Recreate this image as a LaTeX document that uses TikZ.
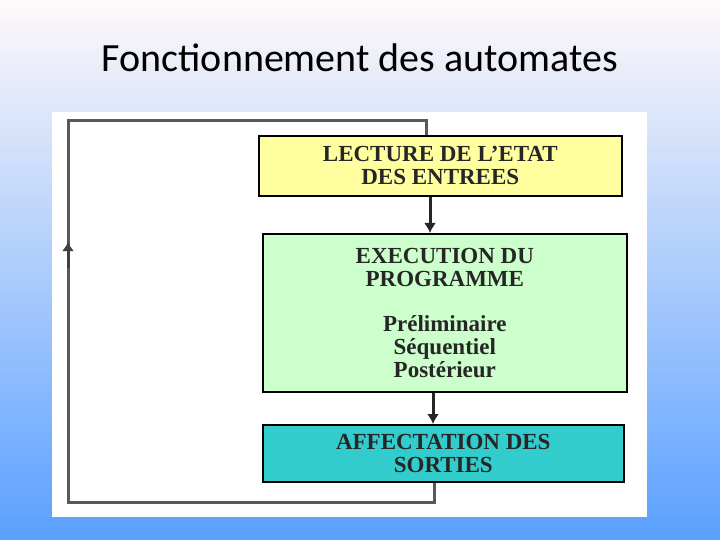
\documentclass[tikz,border=0pt]{standalone}
\usepackage{fontspec}
\setmainfont{Liberation Serif}
\newfontfamily\titlefont{Carlito}
\begin{document}
\begin{tikzpicture}[x=1pt,y=-1pt,
  box/.style={draw=black,line width=1.6pt,inner sep=0pt,font=\fontsize{23}{23}\selectfont\bfseries,align=center,anchor=north west,text=black!85},
  conn/.style={line width=3pt,draw=black!85,-{Latex[length=10pt,width=12pt]}},
  loopline/.style={line width=3pt,draw=black!65}]
\usetikzlibrary{arrows.meta}
\useasboundingbox (0,0) rectangle (720,540);
\shade[top color=white!90!pink, bottom color={rgb,255:red,90;green,160;blue,255}] (0,0) rectangle (720,540);
\node[font=\titlefont\fontsize{40}{42}\selectfont,text=black] (title) at (360,58) {Fonctionnement des automates};
\fill[white] (52,112) rectangle (647,517);
\node[box,fill={rgb,255:red,255;green,255;blue,160},minimum width=363pt,minimum height=60pt] (b1) at (258,135) {LECTURE DE L'ETAT\\DES ENTREES};
\node[box,fill={rgb,255:red,204;green,255;blue,204},minimum width=364pt,minimum height=158pt] (b2) at (262,233) {EXECUTION DU\\PROGRAMME\\[22pt]Préliminaire\\Séquentiel\\Postérieur};
\node[box,fill={rgb,255:red,51;green,204;blue,204},minimum width=361pt,minimum height=57pt] (b3) at (262,424) {AFFECTATION DES\\SORTIES};
\draw[conn] (b1.south -| 430,0) -- (b2.north -| 430,0);
\draw[conn] (b2.south -| 433,0) -- (b3.north -| 433,0);
\coordinate (c1) at (434,502);
\coordinate (c2) at (68,502);
\coordinate (c3) at (68,121);
\coordinate (c4) at (426,121);
\draw[loopline] (b3.south -| 434,0) -- (c1) -- (c2) -- (c3) -- (c4) -- (b1.north -| 426,0);
\draw[line width=3pt,draw=black!75,-{Latex[length=9pt,width=12pt]}] (68,268) -- (68,242);
\end{tikzpicture}
\end{document}
